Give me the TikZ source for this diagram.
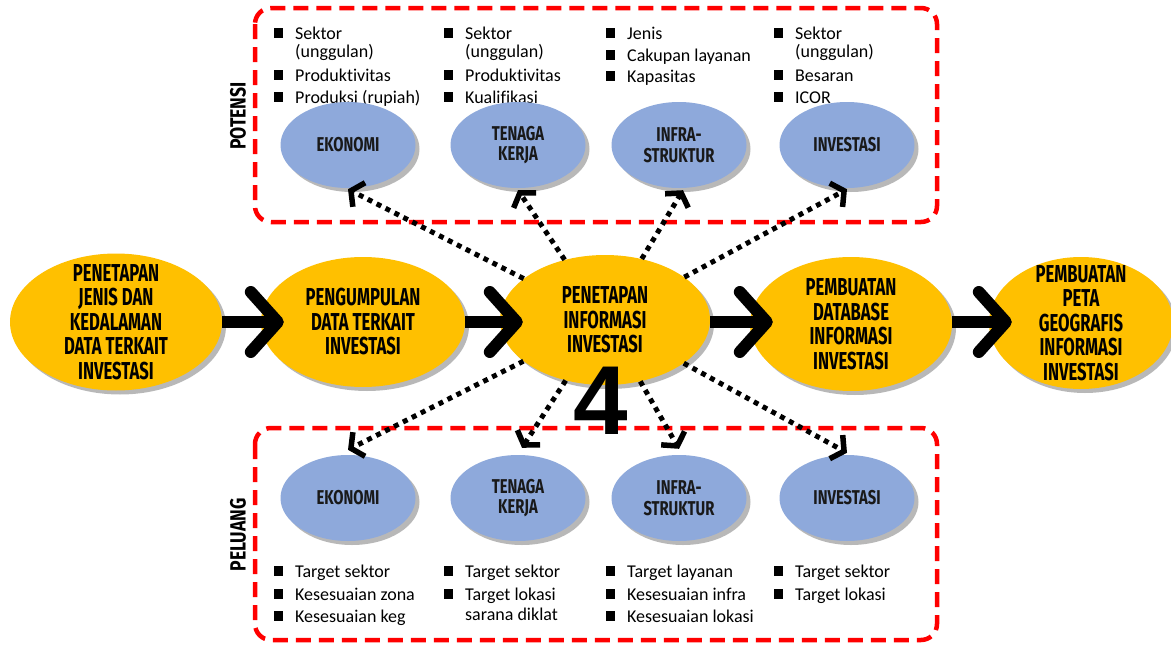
\documentclass[tikz,border=0pt]{standalone}
\usepackage{fontspec}
\setmainfont{Carlito}[Ligatures={NoCommon}]
\newfontfamily\condfont[FakeStretch=0.68]{Fira Sans}
\newfontfamily\bcondfont[FakeStretch=0.74]{Fira Sans}
\newfontfamily\scondfont[FakeStretch=0.8]{Fira Sans}
\newfontfamily\numfont{Liberation Sans}
\usetikzlibrary{shapes.geometric,arrows.meta,shadows}
\definecolor{yel}{RGB}{255,192,0}
\definecolor{blu}{RGB}{142,169,219}
\definecolor{boxred}{RGB}{255,0,0}
\newcommand{\mybul}{\llap{\raisebox{1.5pt}{\rule{9.5pt}{9.5pt}}\hspace{12pt}}}
\tikzset{
  yell/.style={ellipse, fill=yel, inner sep=0pt,
    drop shadow={shadow xshift=4pt,shadow yshift=-4pt,fill=black!55,opacity=0.5}},
  blue/.style={ellipse, fill=blu, inner sep=0pt, minimum width=135pt, minimum height=86pt,
    drop shadow={shadow xshift=4pt,shadow yshift=-4pt,fill=black!55,opacity=0.5}},
  ytext/.style={align=center, inner sep=0pt, text=black,
    font=\condfont\bfseries\fontsize{24.5}{24.5}\selectfont},
  btext/.style={align=center, inner sep=0pt, text=black!90,
    font=\bcondfont\bfseries\fontsize{20}{20.5}\selectfont},
  side/.style={rotate=90, inner sep=0pt, font=\scondfont\bfseries\fontsize{22}{22}\selectfont},
  item/.style={anchor=base west, inner sep=0pt, font=\fontsize{18}{21}\selectfont},
  redbox/.style={draw=boxred, line width=4.5pt, dash pattern=on 15pt off 8pt, rounded corners=16pt},
  bigarrow/.style={line width=12pt, -{Straight Barb[length=27pt,width=60pt,line width=12pt,round]}},
  dotarrow/.style={line width=5pt, dash pattern=on 5pt off 5pt,
    -{Straight Barb[length=9pt,width=27pt,line width=5.5pt]}}
}
\begin{document}
\begin{tikzpicture}[x=1pt,y=-1pt]
\useasboundingbox (0,0) rectangle (1171,645);
\fill[white] (0,0) rectangle (1171,645);

% red dashed boxes
\draw[redbox] (255,8) rectangle (937,222);
\draw[redbox] (255,428) rectangle (937,640);
\node[side] (potensi) at (238,116) {POTENSI};
\node[side] (peluang) at (238,535) {PELUANG};

% top lists
\node[item] (a1) at (295,39) {\mybul Sektor};
\node[item] (a2) at (295,57) {(unggulan)};
\node[item] (a3) at (295,81) {\mybul Produktivitas};
\node[item] (a4) at (295,103) {\mybul Produksi (rupiah)};
\node[item] (b1) at (465,39) {\mybul Sektor};
\node[item] (b2) at (465,57) {(unggulan)};
\node[item] (b3) at (465,81) {\mybul Produktivitas};
\node[item] (b4) at (465,103) {\mybul Kualifikasi};
\node[item] (c1) at (627,39) {\mybul Jenis};
\node[item] (c2) at (627,61) {\mybul Cakupan layanan};
\node[item] (c3) at (627,82) {\mybul Kapasitas};
\node[item] (d1) at (795,39) {\mybul Sektor};
\node[item] (d2) at (795,57) {(unggulan)};
\node[item] (d3) at (795,81) {\mybul Besaran};
\node[item] (d4) at (795,103) {\mybul ICOR};

% bottom lists
\node[item] (e1) at (295,577) {\mybul Target sektor};
\node[item] (e2) at (295,600) {\mybul Kesesuaian zona};
\node[item] (e3) at (295,622) {\mybul Kesesuaian keg};
\node[item] (f1) at (465,577) {\mybul Target sektor};
\node[item] (f2) at (465,600) {\mybul Target lokasi};
\node[item] (f3) at (465,620) {sarana diklat};
\node[item] (g1) at (627,577) {\mybul Target layanan};
\node[item] (g2) at (627,600) {\mybul Kesesuaian infra};
\node[item] (g3) at (627,622) {\mybul Kesesuaian lokasi};
\node[item] (h1) at (795,577) {\mybul Target sektor};
\node[item] (h2) at (795,600) {\mybul Target lokasi};

% blue ellipses top
\node[blue] (pk) at (348,145) {};
\node[blue] (pt) at (518,145) {};
\node[blue] (pi) at (679,145) {};
\node[blue] (pv) at (847,145) {};
\node[btext] (pkt) at (pk) {EKONOMI};
\node[btext] (ptt) at (pt) {TENAGA\\KERJA};
\node[btext] (pit) at (pi) {INFRA-\\STRUKTUR};
\node[btext] (pvt) at (pv) {INVESTASI};
% blue ellipses bottom
\node[blue] (lk) at (348,498) {};
\node[blue] (lt) at (518,498) {};
\node[blue] (li) at (679,498) {};
\node[blue] (lv) at (847,498) {};
\node[btext] (lkt) at (lk) {EKONOMI};
\node[btext] (ltt) at (lt) {TENAGA\\KERJA};
\node[btext] (lit) at (li) {INFRA-\\STRUKTUR};
\node[btext] (lvt) at (lv) {INVESTASI};

% yellow ellipses
\node[yell, minimum width=212pt, minimum height=137pt] (y1) at (116,322) {};
\node[yell, minimum width=204pt, minimum height=130pt] (y2) at (363,322) {};
\node[yell, minimum width=210pt, minimum height=130pt] (y3) at (605,320) {};
\node[yell, minimum width=202pt, minimum height=134pt] (y4) at (851,324) {};
\node[yell, minimum width=184pt, minimum height=132pt] (y5) at (1081,323) {};
\node[ytext] (y1t) at (y1) {PENETAPAN\\JENIS DAN\\KEDALAMAN\\DATA TERKAIT\\INVESTASI};
\node[ytext] (y2t) at (y2) {PENGUMPULAN\\DATA TERKAIT\\INVESTASI};
\node[ytext] (y3t) at (y3) {PENETAPAN\\INFORMASI\\INVESTASI};
\node[ytext] (y4t) at (y4) {PEMBUATAN\\DATABASE\\INFORMASI\\INVESTASI};
\node[ytext] (y5t) at (y5) {PEMBUATAN\\PETA\\GEOGRAFIS\\INFORMASI\\INVESTASI};

% main arrows
\draw[bigarrow] (y1.east |- 0,322) -- ([xshift=23pt]y2.west);
\draw[bigarrow] (y2.east) -- ([xshift=23pt]y3.west |- 0,322);
\draw[bigarrow] (y3.east |- 0,322) -- ([xshift=23pt]y4.west |- 0,322);
\draw[bigarrow] (y4.east |- 0,322) -- ([xshift=23pt]y5.west |- 0,322);

% dotted arrows
\draw[dotarrow] (y3) -- ([yshift=-1pt]pk.south);
\draw[dotarrow] (y3) -- ([yshift=-2pt]pt.south);
\draw[dotarrow] (y3) -- ([yshift=-2pt,xshift=4pt]pi.south);
\draw[dotarrow] (y3) -- ([yshift=-1pt]pv.south);
\draw[dotarrow] (y3) -- ([yshift=5pt]lk.north);
\draw[dotarrow] (y3) -- ([yshift=7pt,xshift=4pt]lt.north);
\draw[dotarrow] (y3) -- ([yshift=6pt]li.north);
\draw[dotarrow] (y3) -- ([yshift=2pt]lv.north);

% big number
\node[inner sep=0pt, font=\numfont\bfseries\fontsize{98}{98}\selectfont] (four) at (601,401) {4};
\end{tikzpicture}
\end{document}
